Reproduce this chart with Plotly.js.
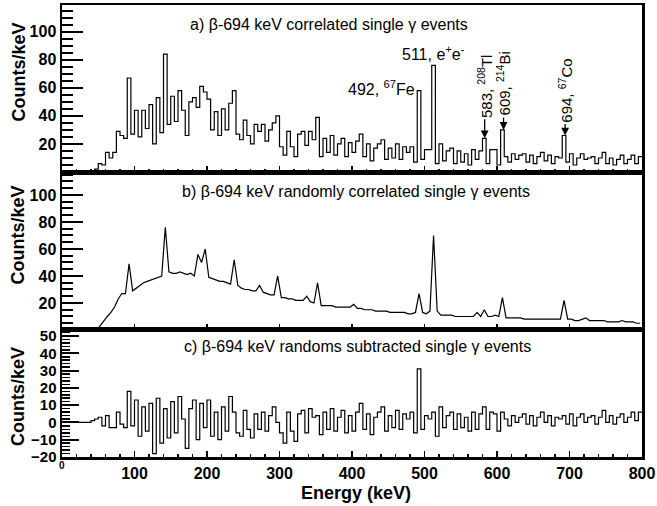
<!DOCTYPE html>
<html><head><meta charset="utf-8">
<script src="https://cdn.plot.ly/plotly-3.0.1.min.js"></script>
<style>html,body{margin:0;padding:0;background:#fff}#chart{width:657px;height:506px}</style>
</head><body><div id="chart"></div>
<script>
// histogram bin width (keV); bins start at 0 keV
const binWidth = 5;

// a) beta-694 keV correlated single gamma events (counts/keV per bin)
const countsA = [
 0,0,0,0,0,0,0,0,1,2,
 6,5,14,10,14,29,26,24,67,27,
 44,25,44,31,48,20,53,28,84,34,
 54,36,58,44,26,50,53,46,61,57,
 52,30,43,26,45,30,49,58,27,23,
 37,26,20,34,29,34,22,30,35,40,
 18,12,29,18,11,27,29,19,29,23,
 39,11,24,14,26,12,20,24,11,21,
 14,22,27,11,20,8,17,20,23,9,
 17,10,20,9,18,14,18,7,58,9,
 16,16,76,6,20,8,15,17,6,15,
 7,13,5,16,9,15,24,6,16,16,
 5,30,11,7,13,9,12,13,7,12,
 6,11,14,8,12,6,11,10,26,7,
 13,5,10,13,9,10,11,6,10,14,
 6,10,5,9,12,6,9,12,6,11
];

// b) beta-694 keV randomly correlated single gamma events
const countsB = [
 0,0,0,0,0,0,0,0,0,0,
 3,7,10,13,17,23,27,27,49,29,
 31,33,35,36,37,38,39,40,76,43,
 42,42,43,42,41,42,40,56,50,60,
 39,38,37,36,36,35,34,52,33,31,
 30,30,29,29,33,28,27,26,26,40,
 24,24,23,23,22,22,22,25,21,20,
 35,18,18,18,18,17,17,17,17,17,
 19,16,16,15,15,15,14,14,14,14,
 13,13,13,13,13,12,12,13,27,13,
 12,14,70,14,11,11,11,11,10,10,
 10,10,10,10,13,10,15,10,10,11,
 10,24,9,9,9,9,9,8,8,8,
 8,8,8,8,8,8,8,8,22,8,
 8,7,7,8,9,7,7,7,7,7,
 6,6,6,6,7,6,6,6,5,5
];

// c) beta-694 keV randoms subtracted single gamma events
const countsC = [
 0,0,0,0,0,0,0,0,1,2,
 3,-2,4,-3,-3,6,-1,-3,18,-2,
 13,-8,9,-5,11,-18,14,-12,8,-9,
 12,-6,15,2,-15,8,13,-10,11,-3,
 13,-8,6,-10,9,-5,15,6,-6,-8,
 7,-4,-9,5,-4,6,-5,4,9,0,
 -6,-12,6,-5,-11,5,7,-6,8,3,
 4,-7,6,-4,8,-5,3,7,-6,4,
 -5,6,11,-4,5,-7,3,6,9,-5,
 4,-3,7,-4,5,2,6,-6,31,-4,
 4,2,6,-8,9,-3,4,6,-4,5,
 -3,3,-5,6,-4,5,9,-4,6,5,
 -5,6,2,-2,4,0,3,5,-1,4,
 -2,3,6,0,4,-2,3,2,4,-1,
 5,-2,3,5,0,3,4,-1,3,7,
 0,4,-1,3,5,0,3,6,1,6
];

const xTickVals = [100,200,300,400,500,600,700,800];
const yTickValsAB = [20,40,60,80,100];
const yTickValsC = [-20,-10,0,10,20,30,40,50];
const panelTitles = [
  'a) β-694 keV correlated single γ events',
  'b) β-694 keV randomly correlated single γ events',
  'c) β-694 keV randoms subtracted single γ events'
];
// peak labels in panel a: [energy, counts at peak, text]
const arrowPeaks = [
  [583, 24, '583, <sup>208</sup>Tl'],
  [609, 30, '609, <sup>214</sup>Bi'],
  [694, 26, '694, <sup>67</sup>Co']
];

// histogram outline: bin left edges plus closing edge at the end
function steps(counts){
  const x = [], y = [];
  counts.forEach((v,i)=>{ x.push(i*binWidth); y.push(v); });
  x.push(counts.length*binWidth); y.push(counts[counts.length-1]);
  return {x, y};
}
function centers(counts){
  return {x: counts.map((v,i)=>(i+0.5)*binWidth), y: counts};
}

const FONT = 'Liberation Sans, Arial, Helvetica, sans-serif';
const sA = steps(countsA), sB = centers(countsB), sC = steps(countsC);

const traces = [
  {x:sA.x, y:sA.y, type:'scatter', mode:'lines', line:{color:'black', width:1.2, shape:'hv'}, xaxis:'x3', yaxis:'y', hoverinfo:'skip'},
  {x:sB.x, y:sB.y, type:'scatter', mode:'lines', line:{color:'black', width:1.2, shape:'linear'}, xaxis:'x2', yaxis:'y2', hoverinfo:'skip'},
  {x:sC.x, y:sC.y, type:'scatter', mode:'lines', line:{color:'black', width:1.2, shape:'hv'}, xaxis:'x', yaxis:'y3', hoverinfo:'skip'}
];

const xCommon = {
  range:[0,800], showgrid:false, zeroline:false, showline:true, linecolor:'black', linewidth:2.5, mirror:true,
  ticks:'inside', ticklen:6, tickwidth:1.5, tickcolor:'black', tickmode:'array', tickvals:xTickVals,
  minor:{ticks:'inside', ticklen:3, tickwidth:1.2, tickcolor:'black', tickmode:'linear', tick0:0, dtick:20},
  tickfont:{family:FONT, size:16, color:'black', weight:'bold'}
};
const yCommon = {
  showgrid:false, zeroline:false, showline:true, linecolor:'black', linewidth:2.5, mirror:true,
  ticks:'inside', ticklen:21, tickwidth:2, tickcolor:'black', tickmode:'array',
  tickfont:{family:FONT, size:16, color:'black', weight:'bold'}
};

const layout = {
  width:657, height:506, margin:{l:62, r:15, t:5, b:49},
  paper_bgcolor:'white', plot_bgcolor:'white', showlegend:false,
  font:{family:FONT, color:'black'},
  xaxis: Object.assign({}, xCommon, {anchor:'y3', domain:[0,1], showticklabels:true}),
  xaxis2: Object.assign({}, xCommon, {anchor:'y2', domain:[0,1], matches:'x', showticklabels:false}),
  xaxis3: Object.assign({}, xCommon, {anchor:'y', domain:[0,1], matches:'x', showticklabels:false}),
  yaxis: Object.assign({}, yCommon, {domain:[0.6305,1], range:[0,119], tickvals:yTickValsAB,
    minor:{ticks:'inside', ticklen:11, tickwidth:2, tickcolor:'black', tickmode:'linear', tick0:0, dtick:5}}),
  yaxis2: Object.assign({}, yCommon, {domain:[0.281,0.6305], range:[0,117], tickvals:yTickValsAB,
    minor:{ticks:'inside', ticklen:11, tickwidth:2, tickcolor:'black', tickmode:'linear', tick0:0, dtick:5}}),
  yaxis3: Object.assign({}, yCommon, {domain:[0,0.281], range:[-20,53.5], tickvals:yTickValsC, ticklen:17,
    tickfont:{family:FONT, size:15, color:'black', weight:'bold'},
    minor:{ticks:'inside', ticklen:8, tickwidth:1.5, tickcolor:'black', tickmode:'linear', tick0:0, dtick:2}}),
  annotations: []
};

const ann = layout.annotations;
// y titles
[0.852, 0.491, 0.134].forEach(yy => ann.push({text:'Counts/keV', xref:'paper', yref:'paper', x:-0.075, y:yy,
  xanchor:'center', yanchor:'middle', textangle:-90, showarrow:false,
  font:{family:FONT, size:18, color:'black', weight:'bold'}}));
// x title
ann.push({text:'Energy (keV)', xref:'paper', yref:'paper', x:0.507, y:-0.0796, xanchor:'center', yanchor:'middle',
  showarrow:false, font:{family:FONT, size:18, color:'black', weight:'bold'}});
// small zero on x axis
ann.push({text:'0', xref:'paper', yref:'paper', x:0, y:-0.0177, xanchor:'center', yanchor:'middle',
  showarrow:false, font:{family:FONT, size:10, color:'black', weight:'bold'}});
// panel titles
[[0.217,0.956],[0.203,0.587],[0.207,0.244]].forEach((p,i) => ann.push({text:panelTitles[i], xref:'paper', yref:'paper',
  x:p[0], y:p[1], xanchor:'left', yanchor:'middle', showarrow:false, font:{family:FONT, size:16, color:'black'}}));
// peak labels (panel a)
ann.push({text:'511, e<sup>+</sup>e<sup>-</sup>', xref:'x3', yref:'y', x:512, y:76, xanchor:'center', yanchor:'bottom',
  showarrow:false, font:{family:FONT, size:16, color:'black'}});
ann.push({text:'492, <sup>67</sup>Fe', xref:'x3', yref:'y', x:490, y:60, xanchor:'right', yanchor:'middle',
  showarrow:false, font:{family:FONT, size:16, color:'black'}});
const arrowOffsets = [-52, -46, -45];
arrowPeaks.forEach((p,i) => ann.push({text:p[2], xref:'x3', yref:'y', x:p[0], y:p[1], ax:0, ay:arrowOffsets[i],
  textangle:-90, showarrow:true, arrowhead:2, arrowsize:1.2, arrowwidth:1.3, arrowcolor:'black', standoff:0,
  font:{family:FONT, size:15, color:'black'}}));

Plotly.newPlot('chart', traces, layout, {staticPlot:true, displayModeBar:false});
</script>
</body></html>
